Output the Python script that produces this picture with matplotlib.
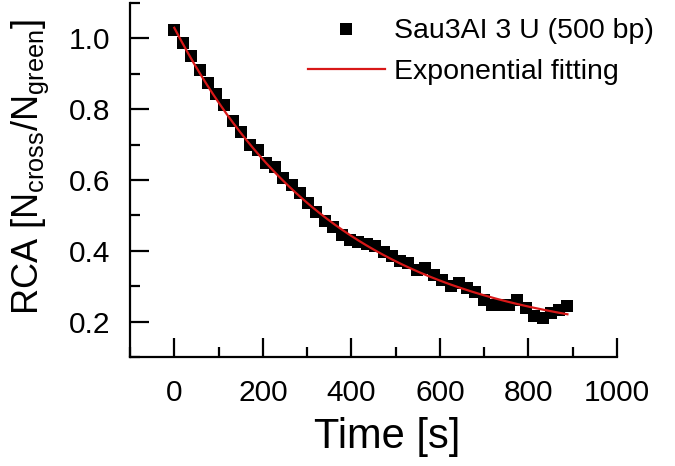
import matplotlib
matplotlib.use("Agg")
import matplotlib.pyplot as plt
import numpy as np
from matplotlib.ticker import MultipleLocator

plt.rcParams['font.family'] = ['Liberation Sans', 'DejaVu Sans']
plt.rcParams['mathtext.fontset'] = 'custom'
plt.rcParams['mathtext.rm'] = 'Liberation Sans'
plt.rcParams['mathtext.it'] = 'Liberation Sans:italic'

# Measured data (time in s, RCA)
time_s = [0, 19, 38, 57, 76, 95, 113, 132, 151, 170, 189, 208, 227, 246, 265,
          284, 302, 321, 340, 359, 378, 397, 416, 435, 454, 473, 491, 510,
          529, 548, 567, 586, 605, 624, 643, 662, 680, 699, 718, 737, 756,
          775, 794, 813, 832, 850, 869, 888]
rca = [1.025, 0.987, 0.949, 0.910, 0.874, 0.842, 0.811, 0.767, 0.736, 0.699,
       0.686, 0.647, 0.637, 0.605, 0.586, 0.563, 0.534, 0.511, 0.483, 0.468,
       0.445, 0.431, 0.425, 0.420, 0.414, 0.398, 0.384, 0.370, 0.365, 0.346,
       0.351, 0.332, 0.318, 0.300, 0.309, 0.295, 0.285, 0.262, 0.247, 0.247,
       0.247, 0.262, 0.239, 0.217, 0.210, 0.225, 0.234, 0.243]

# Exponential fit parameters: y = y0 + A * exp(-t / tau)
fit_y0 = 0.14
fit_A = 0.89
fit_tau = 370.0

series_label = "Sau3AI 3 U (500 bp)"
fit_label = "Exponential fitting"
x_ticks = [0, 200, 400, 600, 800, 1000]
y_ticks = [0.2, 0.4, 0.6, 0.8, 1.0]

fig = plt.figure(figsize=(6.75, 4.66), dpi=100)
ax = fig.add_axes([130/675, 109/466, (617-130)/675, (357-3)/466])

ax.plot(time_s, rca, linestyle='none', marker='s', ms=8, color='black',
        markeredgewidth=0, label=series_label, zorder=2)
t_fit = np.linspace(time_s[0], time_s[-1], 300)
ax.plot(t_fit, fit_y0 + fit_A * np.exp(-t_fit / fit_tau), color='#d81818',
        lw=1.6, label=fit_label, zorder=3)

ax.set_xlim(-100, 1000)
ax.set_ylim(0.1, 1.1)
ax.set_xticks(x_ticks)
ax.set_yticks(y_ticks)
ax.set_xticklabels([str(v) for v in x_ticks])
ax.set_yticklabels([f"{v:.1f}" for v in y_ticks])
ax.xaxis.set_minor_locator(MultipleLocator(100))
ax.yaxis.set_minor_locator(MultipleLocator(0.1))

for s in ['top', 'right']:
    ax.spines[s].set_visible(False)
for s in ['left', 'bottom']:
    ax.spines[s].set_linewidth(1.6)

ax.tick_params(which='major', direction='in', length=14, width=1.6,
               labelsize=21.5, pad=16)
ax.tick_params(which='minor', direction='in', length=7.5, width=1.6)
ax.tick_params(axis='y', which='major', pad=14)

ax.set_xlabel("Time [s]", fontsize=30)
ax.xaxis.set_label_coords(0.528, -0.17)
ax.set_ylabel(r"RCA [$\mathrm{N_{cross}/N_{green}}$]", fontsize=26)
ax.yaxis.set_label_coords(-0.163, 0.537)

leg = ax.legend(loc='upper right', bbox_to_anchor=(671/675, 0.997),
                bbox_transform=fig.transFigure, frameon=False, fontsize=20.5,
                handlelength=2.7, handletextpad=0.33, labelspacing=0.5,
                numpoints=1, borderaxespad=0.2)

fig.savefig("out.png", dpi=100)
